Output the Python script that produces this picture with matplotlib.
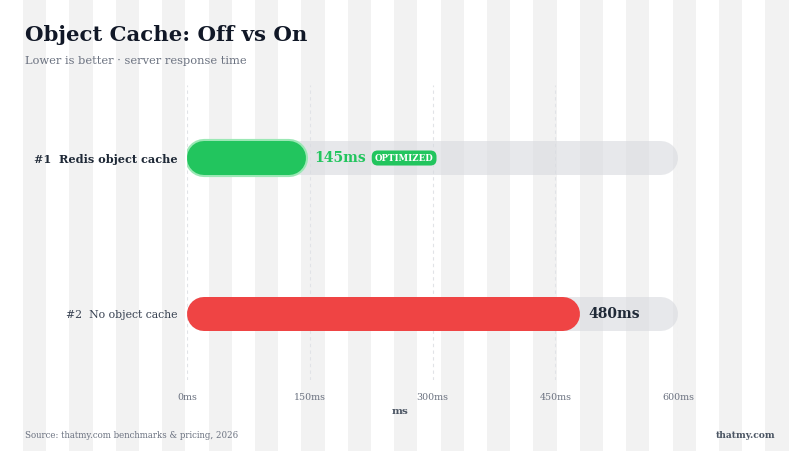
import matplotlib
matplotlib.use("Agg")
import matplotlib.pyplot as plt
from matplotlib.patches import Rectangle
from matplotlib.transforms import offset_copy

plt.rcParams['font.family'] = ['DejaVu Serif']

# data
ranks = ["#1", "#2"]
names = ["Redis object cache", "No object cache"]
values = [145, 480]
colors = ["#22c55e", "#ef4444"]
badges = ["OPTIMIZED", None]
ticks = [0, 150, 300, 450, 600]
xmax = 600

W, H = 800, 451
fig = plt.figure(figsize=(W / 100, H / 100), dpi=100)
fig.patch.set_facecolor("white")

# striped backdrop
period = 46.4
for k in range(17):
    x0 = 23 + k * period
    fig.patches.append(Rectangle((x0 / W, 0), 23.2 / W, 1, transform=fig.transFigure,
                                 facecolor="#f2f2f2", edgecolor="none", zorder=-10))

ax = fig.add_axes([187 / W, (H - 380) / H, 491 / W, 295 / H])
ax.patch.set_alpha(0)
ax.set_xlim(0, xmax)
ax.set_ylim(-0.423, 1.468)
for s in ax.spines.values():
    s.set_visible(False)

ax.set_xticks(ticks, [f"{t}ms" for t in ticks])
ax.tick_params(axis="x", length=0, pad=9, labelsize=6.8, labelcolor="#6b7280")
ax.grid(axis="x", color="#e1e3e7", linestyle=(0, (3, 3)), linewidth=0.8)
ax.set_axisbelow(True)

ypos = [1, 0]
ax.set_yticks(ypos, [f"{r}  {n}" for r, n in zip(ranks, names)])
ax.tick_params(axis="y", length=0, pad=7)
for i, lab in enumerate(ax.get_yticklabels()):
    if i == 0:
        lab.set_fontweight("bold")
        lab.set_color("#1f2937")
        lab.set_fontsize(8.1)
    else:
        lab.set_color("#374151")
        lab.set_fontsize(7.8)

fig.canvas.draw()
px_per_unit = ax.transData.transform((1, 0))[0] - ax.transData.transform((0, 0))[0]
bar_px = 34
r = (bar_px / 2) / px_per_unit
lw = bar_px * 72 / 100

for y, v, c, b in zip(ypos, values, colors, badges):
    # track
    ax.plot([r, xmax - r], [y, y], color="#d8dadf", alpha=0.6, lw=lw,
            solid_capstyle="round", zorder=2)
    if b:
        ax.plot([r, v - r], [y, y], color="#9be8b5", lw=lw + 3,
                solid_capstyle="round", zorder=3)
    ax.plot([r, v - r], [y, y], color=c, lw=lw, solid_capstyle="round", zorder=4)
    tcol = c if b else "#1f2937"
    t = ax.text(v, y, f"{v}ms", transform=offset_copy(ax.transData, fig, x=6, y=0, units="points"),
                ha="left", va="center", fontsize=10, fontweight="bold", color=tcol, zorder=5)
    if b:
        fig.canvas.draw()
        ext = t.get_window_extent()
        bx = ax.transData.inverted().transform((ext.x1 + 9, 0))[0]
        ax.text(bx, y, b, ha="left", va="center", fontsize=6.2, fontweight="bold",
                color="white", zorder=6,
                bbox=dict(boxstyle="round,pad=0.35,rounding_size=0.7", fc=c, ec="none"))

fig.text(25 / W, 1 - 35 / H, "Object Cache: Off vs On", fontsize=15.3, fontweight="bold",
         color="#111827", va="center", ha="left")
fig.text(25 / W, 1 - 61 / H, "Lower is better · server response time", fontsize=8.2,
         color="#6b7280", va="center", ha="left")
fig.text(0.5, 1 - 411 / H, "ms", fontsize=7.5, fontweight="bold", color="#4b5563",
         ha="center", va="center")
fig.text(25 / W, 1 - 435 / H, "Source: thatmy.com benchmarks & pricing, 2026", fontsize=6.2,
         color="#6b7280", ha="left", va="center")
fig.text(775 / W, 1 - 435 / H, "thatmy.com", fontsize=6.6, fontweight="bold",
         color="#4b5563", ha="right", va="center")

fig.savefig("out.png", dpi=100)
